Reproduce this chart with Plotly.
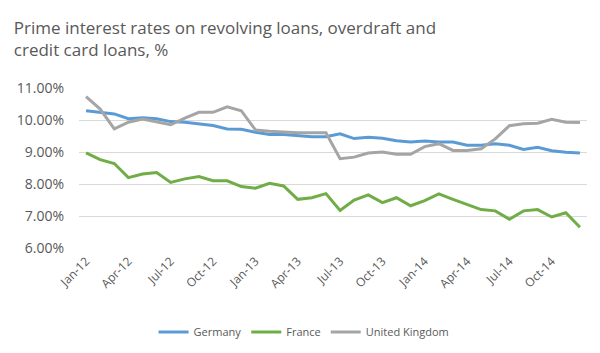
import plotly.graph_objects as go

months = ["Jan-12","Feb-12","Mar-12","Apr-12","May-12","Jun-12","Jul-12","Aug-12","Sep-12","Oct-12","Nov-12","Dec-12",
          "Jan-13","Feb-13","Mar-13","Apr-13","May-13","Jun-13","Jul-13","Aug-13","Sep-13","Oct-13","Nov-13","Dec-13",
          "Jan-14","Feb-14","Mar-14","Apr-14","May-14","Jun-14","Jul-14","Aug-14","Sep-14","Oct-14","Nov-14","Dec-14"]
tick_labels = months[::3]

germany = [10.29, 10.25, 10.19, 10.04, 10.07, 10.04, 9.95, 9.93, 9.89, 9.83, 9.72, 9.71,
           9.62, 9.55, 9.55, 9.51, 9.48, 9.48, 9.57, 9.42, 9.46, 9.43, 9.35, 9.31,
           9.34, 9.31, 9.31, 9.21, 9.21, 9.26, 9.21, 9.08, 9.15, 9.04, 8.99, 8.97]
france = [8.97, 8.76, 8.64, 8.20, 8.31, 8.36, 8.05, 8.16, 8.23, 8.10, 8.10, 7.92,
          7.87, 8.02, 7.94, 7.52, 7.57, 7.70, 7.17, 7.50, 7.66, 7.42, 7.57, 7.32,
          7.48, 7.69, 7.52, 7.36, 7.20, 7.16, 6.90, 7.16, 7.20, 6.97, 7.10, 6.65]
uk = [10.73, 10.34, 9.72, 9.93, 10.03, 9.93, 9.85, 10.06, 10.24, 10.24, 10.41, 10.29,
      9.69, 9.65, 9.62, 9.60, 9.60, 9.60, 8.79, 8.84, 8.97, 9.00, 8.93, 8.93,
      9.17, 9.26, 9.05, 9.05, 9.10, 9.41, 9.82, 9.88, 9.90, 10.02, 9.93, 9.92]

series = [("Germany", germany, "#5B9BD5"), ("France", france, "#70AD47"), ("United Kingdom", uk, "#A5A5A5")]

fig = go.Figure()
for name, vals, color in series:
    fig.add_trace(go.Scatter(x=months, y=vals, name=name, mode="lines",
                             line=dict(color=color, width=3)))

grey = "#595959"
fig.update_layout(
    width=600, height=353,
    margin=dict(l=79, r=13, t=88, b=105, autoexpand=False),
    paper_bgcolor="white", plot_bgcolor="white",
    font=dict(family="Open Sans, sans-serif", color=grey),
    title=dict(text="Prime interest rates on revolving loans, overdraft and<br>credit card loans, %",
               x=0.023, xanchor="left", y=0.905, yanchor="top", yref="container",
               font=dict(size=17, color=grey, family="Open Sans, sans-serif")),
    showlegend=True,
    legend=dict(orientation="h", x=0.443, xanchor="center", y=-0.525, yanchor="middle",
                font=dict(size=11, color=grey), itemwidth=30, tracegroupgap=0),
)
fig.update_xaxes(type="category", categoryorder="array", categoryarray=months,
                 range=[-0.5, len(months) - 0.5], automargin=False,
                 tickmode="array", tickvals=tick_labels, ticktext=tick_labels,
                 tickangle=-45, tickfont=dict(size=12, color=grey), ticklabelstandoff=3,
                 showgrid=False, showline=False, ticks="", zeroline=False)
fig.update_yaxes(range=[6, 11], dtick=1, tickformat=".2f", ticksuffix="%",
                 gridcolor="#D9D9D9", gridwidth=1, zeroline=False, showline=False, automargin=False,
                 tickfont=dict(size=14, color=grey), ticks="", ticklabelstandoff=14)

fig.write_html("out.html")
